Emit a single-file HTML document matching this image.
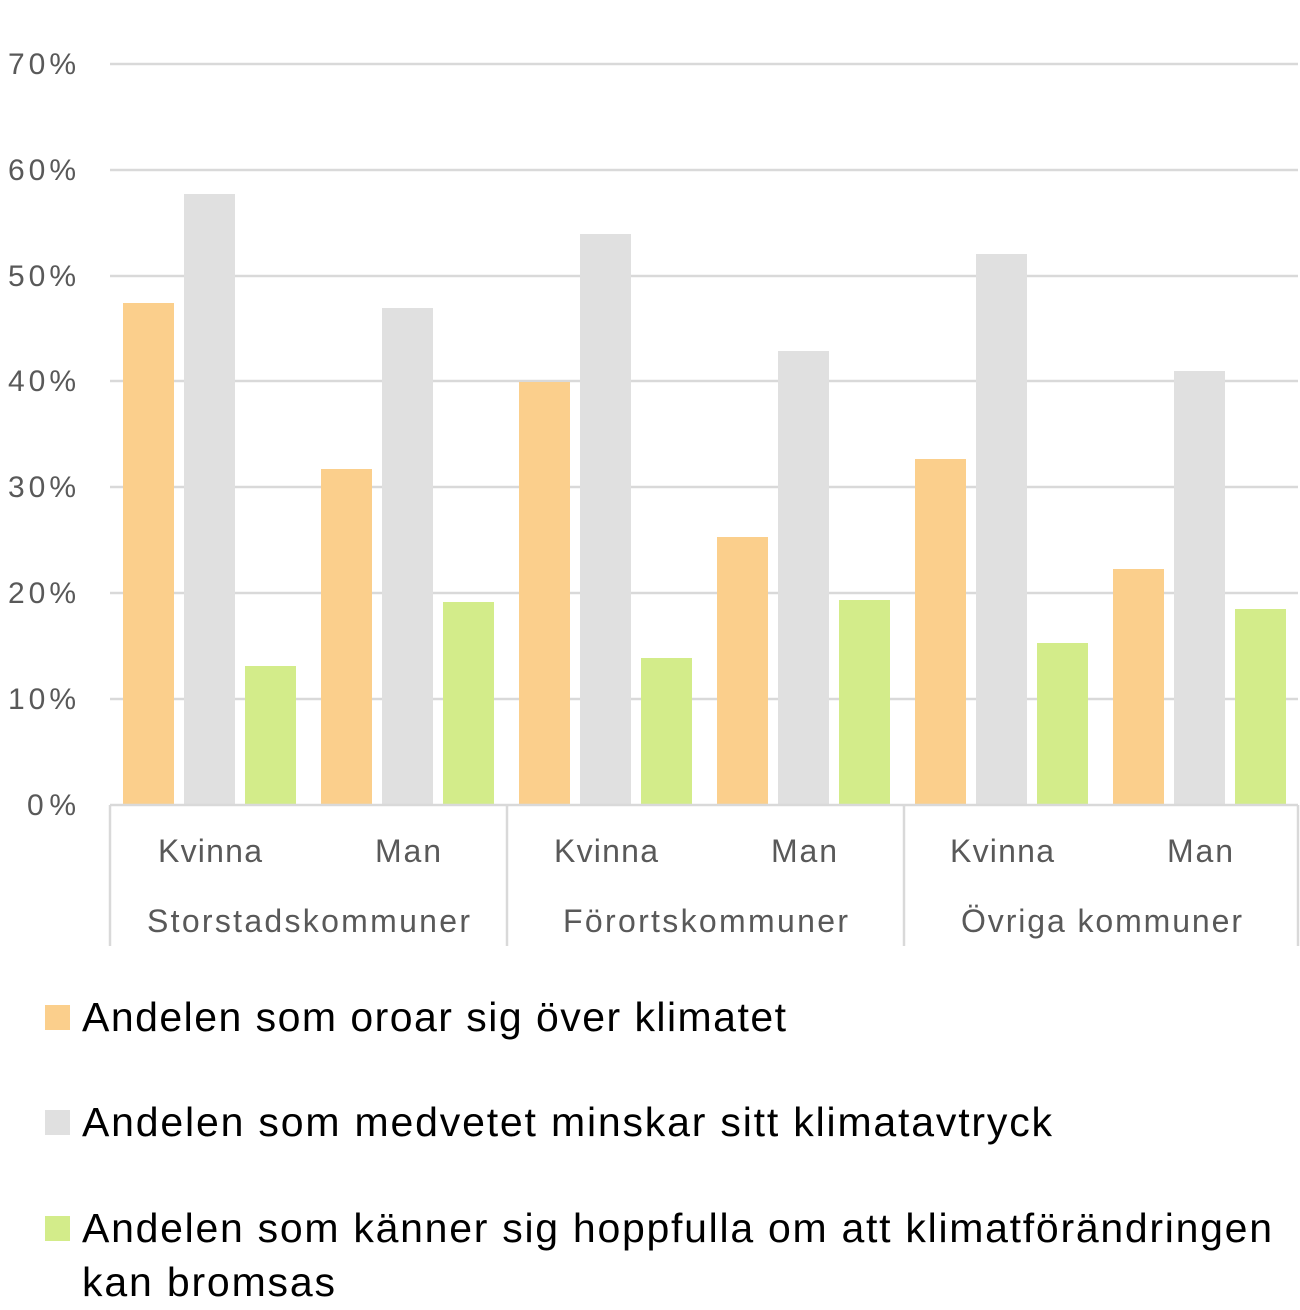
<!DOCTYPE html>
<html><head><meta charset="utf-8"><style>
html,body{margin:0;padding:0;background:#fff;}
svg{display:block;font-family:"Liberation Sans",sans-serif;}
</style></head><body>
<svg width="1300" height="1310" viewBox="0 0 1300 1310" xmlns="http://www.w3.org/2000/svg">
<g stroke="#d9d9d9" stroke-width="2.5">
<line x1="110" x2="1298" y1="64" y2="64"/>
<line x1="110" x2="1298" y1="170" y2="170"/>
<line x1="110" x2="1298" y1="276" y2="276"/>
<line x1="110" x2="1298" y1="381" y2="381"/>
<line x1="110" x2="1298" y1="487" y2="487"/>
<line x1="110" x2="1298" y1="593" y2="593"/>
<line x1="110" x2="1298" y1="699" y2="699"/>
</g>
<g fill="#595959" font-size="30">
<text x="8" y="74" textLength="68">70%</text>
<text x="8" y="180" textLength="68">60%</text>
<text x="8" y="286" textLength="68">50%</text>
<text x="8" y="391" textLength="68">40%</text>
<text x="8" y="497" textLength="68">30%</text>
<text x="8" y="603" textLength="68">20%</text>
<text x="8" y="709" textLength="68">10%</text>
<text x="27" y="815" textLength="49">0%</text>
</g>
<g>
<rect x="123" y="303" width="51" height="502" fill="#FBCF8C"/>
<rect x="184" y="194" width="51" height="611" fill="#E0E0E0"/>
<rect x="245" y="666" width="51" height="139" fill="#D3EC8A"/>
<rect x="321" y="469" width="51" height="336" fill="#FBCF8C"/>
<rect x="382" y="308" width="51" height="497" fill="#E0E0E0"/>
<rect x="443" y="602" width="51" height="203" fill="#D3EC8A"/>
<rect x="519" y="382" width="51" height="423" fill="#FBCF8C"/>
<rect x="580" y="234" width="51" height="571" fill="#E0E0E0"/>
<rect x="641" y="658" width="51" height="147" fill="#D3EC8A"/>
<rect x="717" y="537" width="51" height="268" fill="#FBCF8C"/>
<rect x="778" y="351" width="51" height="454" fill="#E0E0E0"/>
<rect x="839" y="600" width="51" height="205" fill="#D3EC8A"/>
<rect x="915" y="459" width="51" height="346" fill="#FBCF8C"/>
<rect x="976" y="254" width="51" height="551" fill="#E0E0E0"/>
<rect x="1037" y="643" width="51" height="162" fill="#D3EC8A"/>
<rect x="1113" y="569" width="51" height="236" fill="#FBCF8C"/>
<rect x="1174" y="371" width="51" height="434" fill="#E0E0E0"/>
<rect x="1235" y="609" width="51" height="196" fill="#D3EC8A"/>
</g>
<g stroke="#d9d9d9" stroke-width="2.5">
<line x1="110" x2="1298" y1="805" y2="805"/>
<line x1="110" x2="110" y1="805" y2="946"/>
<line x1="507" x2="507" y1="805" y2="946"/>
<line x1="904" x2="904" y1="805" y2="946"/>
<line x1="1298" x2="1298" y1="805" y2="946"/>
</g>
<g fill="#595959" font-size="32">
<text x="158" y="862" textLength="104">Kvinna</text>
<text x="375" y="862" textLength="66">Man</text>
<text x="554" y="862" textLength="104">Kvinna</text>
<text x="771" y="862" textLength="66">Man</text>
<text x="950" y="862" textLength="104">Kvinna</text>
<text x="1167" y="862" textLength="66">Man</text>
<text x="147" y="932" textLength="323">Storstadskommuner</text>
<text x="563" y="932" textLength="285">Förortskommuner</text>
<text x="961" y="932" textLength="281">Övriga kommuner</text>
</g>
<rect x="45" y="1005" width="25" height="25" fill="#FBCF8C"/>
<rect x="45" y="1110" width="25" height="25" fill="#E0E0E0"/>
<rect x="45" y="1216" width="25" height="25" fill="#D3EC8A"/>
<g fill="#000" font-size="41">
<text x="82" y="1031" textLength="704">Andelen som oroar sig över klimatet</text>
<text x="82" y="1136" textLength="970">Andelen som medvetet minskar sitt klimatavtryck</text>
<text x="82" y="1242" textLength="1190">Andelen som känner sig hoppfulla om att klimatförändringen</text>
<text x="82" y="1296" textLength="253">kan bromsas</text>
</g>
</svg>
</body></html>
